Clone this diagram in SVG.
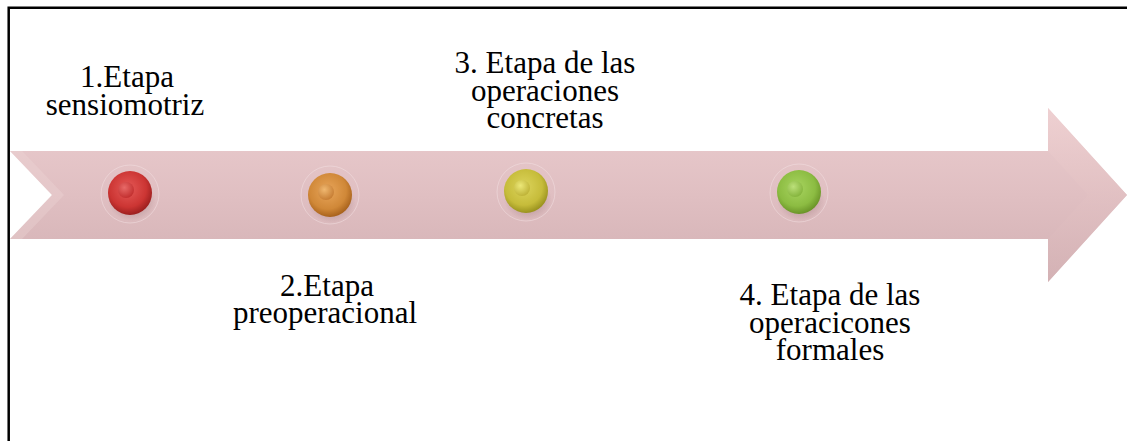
<svg xmlns="http://www.w3.org/2000/svg" width="1127" height="441" viewBox="0 0 1127 441">
<style>
text.lbl{font-family:'Liberation Serif','Times New Roman',serif;font-size:31px;fill:#000;text-anchor:middle}
.ring{fill:none;stroke:#f3e2e4;stroke-width:1;opacity:0.5}
</style>
<defs>
<linearGradient id="arrowG" x1="0" y1="0" x2="0" y2="1">
<stop offset="0" stop-color="#ebcdcf"/>
<stop offset="0.5" stop-color="#e0bfc2"/>
<stop offset="1" stop-color="#d2b0b3"/>
</linearGradient>
<linearGradient id="headG" x1="0" y1="0" x2="0" y2="1">
<stop offset="0" stop-color="#f0d2d3"/>
<stop offset="0.5" stop-color="#e2c1c3"/>
<stop offset="1" stop-color="#d4b2b5"/>
</linearGradient>
<radialGradient id="red" cx="0.45" cy="0.4" r="0.6">
<stop offset="0" stop-color="#e55a58"/>
<stop offset="0.7" stop-color="#cc3533"/>
<stop offset="1" stop-color="#9c1f1f"/>
</radialGradient>
<radialGradient id="redIn" cx="0.4" cy="0.35" r="0.7">
<stop offset="0" stop-color="#e86a68"/>
<stop offset="1" stop-color="#c02c2c"/>
</radialGradient>
<radialGradient id="orange" cx="0.45" cy="0.4" r="0.6">
<stop offset="0" stop-color="#e8a55a"/>
<stop offset="0.7" stop-color="#d08838"/>
<stop offset="1" stop-color="#a8621c"/>
</radialGradient>
<radialGradient id="orangeIn" cx="0.4" cy="0.35" r="0.7">
<stop offset="0" stop-color="#f0b870"/>
<stop offset="1" stop-color="#c47a30"/>
</radialGradient>
<radialGradient id="yellow" cx="0.45" cy="0.4" r="0.6">
<stop offset="0" stop-color="#dcd45c"/>
<stop offset="0.7" stop-color="#c6bc3a"/>
<stop offset="1" stop-color="#9a921e"/>
</radialGradient>
<radialGradient id="yellowIn" cx="0.4" cy="0.35" r="0.7">
<stop offset="0" stop-color="#ece878"/>
<stop offset="1" stop-color="#bcb034"/>
</radialGradient>
<radialGradient id="green" cx="0.45" cy="0.4" r="0.6">
<stop offset="0" stop-color="#a8d460"/>
<stop offset="0.7" stop-color="#8cbc42"/>
<stop offset="1" stop-color="#6a9428"/>
</radialGradient>
<radialGradient id="greenIn" cx="0.4" cy="0.35" r="0.7">
<stop offset="0" stop-color="#bce07a"/>
<stop offset="1" stop-color="#82b23a"/>
</radialGradient>
<radialGradient id="shadowG" cx="0.5" cy="0.5" r="0.5">
<stop offset="0" stop-color="#6a4548" stop-opacity="0.45"/>
<stop offset="1" stop-color="#6a4548" stop-opacity="0"/>
</radialGradient>
</defs>

<g id="frame">
<path d="M8.7,441 V7.8 H1127" fill="none" stroke="#000" stroke-width="2.5"/>
</g>

<g id="connectors">
<path d="M10,151 H1048 V108 L1127,195 L1048,282 V239 H10 L52,195 Z" fill="url(#arrowG)"/>
<path d="M1048,108 L1127,195 L1048,282 V239 L1088,195 L1048,151 Z" fill="url(#headG)" opacity="0.7"/>
<path d="M10,151 L52,195 L10,239 L22,239 L64,195 L22,151 Z" fill="#efd6d8" opacity="0.35"/>
</g>

<g id="stage1">
<circle cx="130" cy="194" r="29" class="ring"/>
<ellipse cx="132" cy="201" rx="24" ry="20" fill="url(#shadowG)"/>
<circle cx="130" cy="193" r="22" fill="url(#red)"/>
<circle cx="126" cy="190" r="8" fill="url(#redIn)"/>
<text class="lbl" x="126" y="87"><tspan x="127">1.Etapa</tspan><tspan x="125" dy="28">sensiomotriz</tspan></text>
</g>

<g id="stage2">
<circle cx="330" cy="195" r="29" class="ring"/>
<ellipse cx="332" cy="203" rx="24" ry="20" fill="url(#shadowG)"/>
<circle cx="330" cy="195" r="22" fill="url(#orange)"/>
<circle cx="326" cy="192" r="8" fill="url(#orangeIn)"/>
<text class="lbl" x="326" y="296"><tspan x="327">2.Etapa</tspan><tspan x="325" dy="27">preoperacional</tspan></text>
</g>

<g id="stage3">
<circle cx="526" cy="192" r="29" class="ring"/>
<ellipse cx="528" cy="200" rx="24" ry="20" fill="url(#shadowG)"/>
<circle cx="526" cy="191" r="22" fill="url(#yellow)"/>
<circle cx="522" cy="188" r="8" fill="url(#yellowIn)"/>
<text class="lbl" x="545" y="73"><tspan x="545">3. Etapa de las</tspan><tspan x="545" dy="27.5">operaciones</tspan><tspan x="545" dy="27.5">concretas</tspan></text>
</g>

<g id="stage4">
<circle cx="799" cy="193" r="29" class="ring"/>
<ellipse cx="801" cy="201" rx="24" ry="20" fill="url(#shadowG)"/>
<circle cx="799" cy="192" r="22" fill="url(#green)"/>
<circle cx="795" cy="189" r="8" fill="url(#greenIn)"/>
<text class="lbl" x="830" y="305"><tspan x="830">4. Etapa de las</tspan><tspan x="830" dy="27.5">operacicones</tspan><tspan x="830" dy="27.5">formales</tspan></text>
</g>
</svg>
